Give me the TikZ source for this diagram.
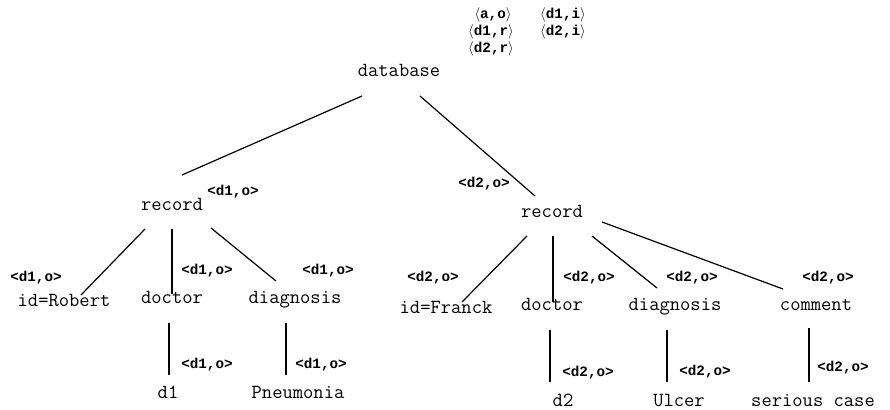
\documentclass[tikz,border=0pt]{standalone}
\usepackage{fontspec}
\newfontfamily\labfont{Liberation Mono}
\begin{document}
\begin{tikzpicture}[x=1pt,y=-1pt,
  txt/.style={font=\ttfamily\fontsize{20}{22}\selectfont, inner sep=0pt, anchor=base},
  lab/.style={font=\labfont\bfseries\fontsize{14.3}{16}\selectfont, inner sep=0pt, anchor=base},
  edge/.style={line width=1.2pt, black}]
\useasboundingbox (0,0) rectangle (890,409);
% top labels
\node[lab] (ta) at (493,19) {$\langle$a,o$\rangle$};
\node[lab] (tb) at (563,19) {$\langle$d1,i$\rangle$};
\node[lab] (tc) at (491,36) {$\langle$d1,r$\rangle$};
\node[lab] (td) at (563,36) {$\langle$d2,i$\rangle$};
\node[lab] (te) at (491,53) {$\langle$d2,r$\rangle$};
% main nodes
\node[txt] (db) at (399,77) {database};
\node[txt] (rec1) at (172,210) {record};
\node[txt] (rec2) at (552,217) {record};
\node[txt] (idr) at (64,306) {id=Robert};
\node[txt] (doc1) at (172,303) {doctor};
\node[txt] (diag1) at (295,303) {diagnosis};
\node[txt] (d1) at (168,398) {d1};
\node[txt] (pneu) at (298,398) {Pneumonia};
\node[txt] (idf) at (446,313) {id=Franck};
\node[txt] (doc2) at (552,310) {doctor};
\node[txt] (diag2) at (675,310) {diagnosis};
\node[txt] (com) at (816,310) {comment};
\node[txt] (d2) at (563,406) {d2};
\node[txt] (ulc) at (679,406) {Ulcer};
\node[txt] (ser) at (813,406) {serious case};
% labels
\node[lab] (lrec1) at (233,195) {<d1,o>};
\node[lab] (lrec2) at (484,187) {<d2,o>};
\node[lab] (lidr) at (36,281) {<d1,o>};
\node[lab] (ldoc1) at (207,274) {<d1,o>};
\node[lab] (ldiag1) at (328,274) {<d1,o>};
\node[lab] (ld1) at (207,368) {<d1,o>};
\node[lab] (lpneu) at (321,368) {<d1,o>};
\node[lab] (lidf) at (433,281) {<d2,o>};
\node[lab] (ldoc2) at (589,281) {<d2,o>};
\node[lab] (ldiag2) at (692,281) {<d2,o>};
\node[lab] (lcom) at (828,281) {<d2,o>};
\node[lab] (ld2) at (588,376) {<d2,o>};
\node[lab] (lulc) at (705,375) {<d2,o>};
\node[lab] (lser) at (843,371) {<d2,o>};
% edges
\draw[edge] ([shift={(-37,19)}]db.base) -- ([shift={(10,-35)}]rec1.base);
\draw[edge] ([shift={(21,19)}]db.base) -- ([shift={(-17,-21)}]rec2.base);
\draw[edge] ([shift={(-27,19)}]rec1.base) -- ([shift={(17,-11)}]idr.base);
\draw[edge] ([shift={(0,19)}]rec1.base) -- ([shift={(0,-9)}]doc1.base);
\draw[edge] ([shift={(39,18)}]rec1.base) -- ([shift={(-19,-22)}]diag1.base);
\draw[edge] ([shift={(-3,20)}]doc1.base) -- ([shift={(1,-23)}]d1.base);
\draw[edge] ([shift={(-9,20)}]diag1.base) -- ([shift={(-12,-23)}]pneu.base);
\draw[edge] ([shift={(-25,19)}]rec2.base) -- ([shift={(16,-11)}]idf.base);
\draw[edge] ([shift={(1,19)}]rec2.base) -- ([shift={(1,-8)}]doc2.base);
\draw[edge] ([shift={(40,19)}]rec2.base) -- ([shift={(-18,-22)}]diag2.base);
\draw[edge] ([shift={(50,5)}]rec2.base) -- ([shift={(-33,-21)}]com.base);
\draw[edge] ([shift={(-2,20)}]doc2.base) -- ([shift={(-13,-24)}]d2.base);
\draw[edge] ([shift={(-8,20)}]diag2.base) -- ([shift={(-12,-24)}]ulc.base);
\draw[edge] ([shift={(-7,18)}]com.base) -- ([shift={(-4,-24)}]ser.base);
\end{tikzpicture}
\end{document}
